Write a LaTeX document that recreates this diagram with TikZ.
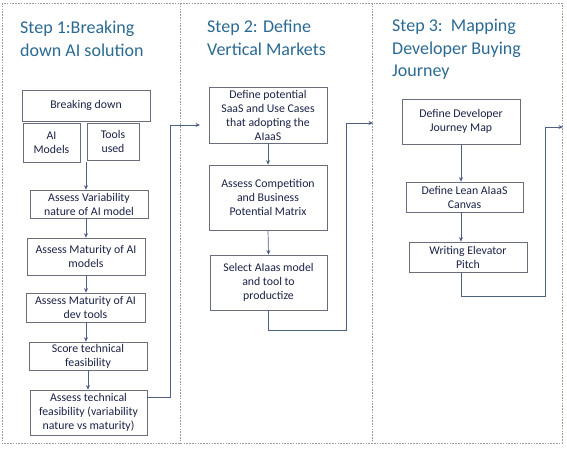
\documentclass[tikz,border=0pt]{standalone}
\usepackage{fontspec}
\setmainfont{Carlito}
\usetikzlibrary{arrows.meta}
\definecolor{titleblue}{RGB}{42,106,146}
\definecolor{boxline}{RGB}{105,110,125}
\definecolor{boxtext}{RGB}{26,34,70}
\definecolor{flowline}{RGB}{78,96,132}
\definecolor{frameline}{RGB}{150,155,168}
\tikzset{
	stepbox/.style={draw=boxline, line width=0.7pt, text=boxtext, align=center, inner sep=0pt,
		font=\fontsize{11.8}{14}\selectfont},
	steptitle/.style={text=titleblue, align=left, anchor=north west, inner sep=0pt,
		font=\fontsize{18}{22.5}\selectfont},
	flow/.style={draw=flowline, line width=0.7pt, -{Stealth[length=4.5pt,width=4pt]}},
	frameline/.style={draw=frameline, line width=0.6pt, dash pattern=on 1.6pt off 1.2pt}
}

\begin{document}
\begin{tikzpicture}[x=1pt, y=-1pt]
			%%%%% START %%%%%
			\useasboundingbox (0, 0) rectangle (567, 448);
			
			\draw[frameline] (2, 3) rectangle (562, 443);
			\draw[frameline] (180, 3) -- (180, 443);
			\draw[frameline] (372, 3) -- (372, 443);
			
			\node[steptitle] (title1) at (20, 21) {Step 1:Breaking\\down AI solution};
			\node[steptitle] (title2) at (207, 20) {Step 2: Define\\Vertical Markets};
			\node[steptitle] (title3) at (392, 19) {Step 3:\ \ Mapping\\Developer Buying\\Journey};
			
			\node[stepbox, minimum width=128pt, minimum height=31pt] (brk) at (86, 105.5) {Breaking down};
			\node[stepbox, minimum width=57pt, minimum height=39pt] (aimod) at (51.5, 142.5) {AI\\Models};
			\node[stepbox, minimum width=52pt, minimum height=37pt] (tools) at (113, 141.5) {Tools\\used};
			\node[stepbox, minimum width=118pt, minimum height=28pt] (var) at (89, 204) {Assess Variability\\nature of AI model};
			\node[stepbox, minimum width=118pt, minimum height=37pt] (matm) at (86, 256.5) {Assess Maturity of AI\\models};
			\node[stepbox, minimum width=119pt, minimum height=29pt] (matt) at (85.5, 307.5) {Assess Maturity of AI\\dev tools};
			\node[stepbox, minimum width=118pt, minimum height=28pt] (score) at (88, 356) {Score technical\\feasibility};
			\node[stepbox, minimum width=117pt, minimum height=45pt] (feas) at (88.5, 412.5) {Assess technical\\feasibility (variability\\nature vs maturity)};
			
			\node[stepbox, minimum width=118pt, minimum height=56pt] (def) at (268, 115) {Define potential\\SaaS and Use Cases\\that adopting the\\AIaaS};
			\node[stepbox, minimum width=118pt, minimum height=65pt] (comp) at (268, 197.5) {Assess Competition\\and Business\\Potential Matrix};
			\node[stepbox, minimum width=117pt, minimum height=55pt] (sel) at (268.5, 282.5) {Select AIaas model\\and tool to\\productize};
			
			\node[stepbox, minimum width=118pt, minimum height=45pt] (jour) at (461, 121.5) {Define Developer\\Journey Map};
			\node[stepbox, minimum width=117pt, minimum height=30pt] (lean) at (464.5, 197) {Define Lean AIaaS\\Canvas};
			\node[stepbox, minimum width=118pt, minimum height=30pt] (pitch) at (468, 257) {Writing Elevator\\Pitch};
			
			\coordinate (in2) at (200, 125);
			\coordinate (in3) at (373, 123);
			\coordinate (out3) at (563, 127);
			
			\draw[flow] (aimod.south -| brk.south) -- (var.north -| brk.south);
			\draw[flow] (var.south -| brk.south) -- (matm.north -| brk.south);
			\draw[flow] (matm.south -| brk.south) -- (matt.north -| brk.south);
			\draw[flow] (matt.south -| brk.south) -- (score.north -| brk.south);
			\draw[flow] (score.south) -- (feas.north -| score.south);
			\draw[flow] ([yshift=-8pt]feas.north east) -- ++(23, 0) |- (in2);
			
			\draw[flow] (def.south) -- (comp.north);
			\draw[flow] (comp.south) -- (sel.north);
			\draw[flow] (sel.south) -- ++(0, 20) -| ([xshift=-27pt]in3) -- (in3);
			
			\draw[flow] (jour.south) -- (lean.north -| jour.south);
			\draw[flow] (lean.south -| jour.south) -- (pitch.north -| jour.south);
			\draw[flow] (pitch.south -| jour.south) -- ++(0, 24) -| ([xshift=-18pt]out3) -- (out3);
			
			%%%%% END %%%%%
		\end{tikzpicture}
\end{document}
